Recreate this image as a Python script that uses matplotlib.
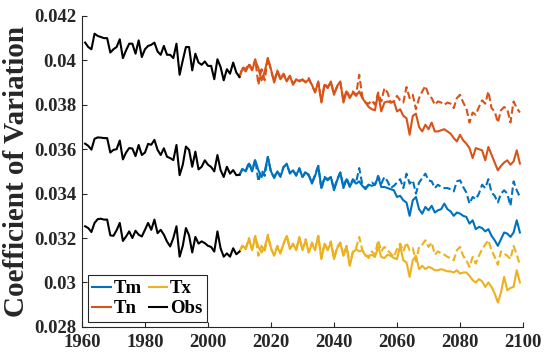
import numpy as np
import matplotlib
matplotlib.use("Agg")
import matplotlib.pyplot as plt
from matplotlib.lines import Line2D

# values are coefficient of variation x 1e4
years_obs = np.arange(1961, 2011)
years_fut = np.arange(2010, 2100)

tn_obs = [408, 406, 405, 412, 411, 410.5, 410, 410, 403.5, 405,
          406, 409.5, 401, 404.5, 407.5, 407.5, 403, 409, 401.5, 405,
          406.5, 407, 408, 404, 402.5, 406.5, 402.5, 402.5, 401, 407.5,
          393.5, 400, 406, 406, 395.5, 403, 399, 398, 399.5, 397.5,
          397.5, 391.5, 400.5, 397, 391, 396, 394, 399, 394.5, 392.5]
tm_obs = [362.5, 361.5, 359.8, 364.7, 365.3, 365.2, 365, 365, 358.5, 359.7,
          360, 363.9, 355.4, 358.5, 360.5, 360.3, 356.9, 361.9, 357.4, 358.5,
          362.4, 362, 364.2, 359.7, 357.4, 360.4, 356.6, 356, 355.1, 361.9,
          348.3, 353, 361.2, 359.7, 352.1, 358.9, 350.9, 352.1, 355, 353,
          352, 350, 357.4, 350.6, 347.5, 352.1, 349, 350.6, 348.3, 348.5]
tx_obs = [325.3, 324.5, 322.7, 326.8, 328.5, 328.7, 328.3, 328.3, 321.2, 321,
          323.5, 326.8, 318.7, 320.7, 323, 320, 323.3, 321.5, 320.7, 323.7,
          326.8, 323.7, 328.3, 322.2, 323.7, 321.5, 318.4, 316.2, 320, 325.3,
          311.6, 316.5, 324.5, 321.2, 313.5, 320.5, 317.5, 318.5, 317.7, 316.5,
          316, 313.9, 323, 315.4, 311.6, 313.1, 311.6, 315.4, 312.7, 313.9]

# projections 2010-2099, solid (a) and dashed (b)
tn_a = [392.5,
        396.5, 395, 398, 395.5, 400, 396.5, 391, 395, 401, 396,
        390, 395, 391.5, 393.5, 390.5, 393, 389, 391.5, 390.5, 391.5,
        390, 391.5, 389, 385.5, 390.5, 381, 389, 387.5, 390.5, 384.5,
        388.5, 390.5, 381, 386, 383, 385.5, 384, 386, 383, 381,
        379, 378, 377.5, 385, 377, 381, 381.5, 381, 381.5, 377,
        378, 375, 374, 366.5, 375, 376, 370, 368, 371, 369,
        372, 368, 368, 368.5, 369, 368, 367, 365, 363.5, 366.5,
        364, 362.5, 360.5, 356, 360.5, 360, 359.5, 355, 361, 357.5,
        354, 350.5, 352.5, 354, 355, 353, 354.5, 359.5, 353.5]
tn_b = [392.5,
        397, 396, 398.5, 396, 400.5, 389, 396, 391, 401, 395.5,
        390.5, 395.5, 392, 394, 391, 393, 389.5, 391, 391, 391,
        390.5, 392, 388.5, 386, 390, 381.5, 389.5, 388, 390, 385,
        388, 390, 382, 386.5, 383.5, 386, 384.5, 393.5, 383.5, 381,
        380.5, 382, 380, 385.5, 381.5, 387.5, 385.5, 381, 381.5, 384,
        382, 381, 388, 383, 384.5, 378, 383, 386, 388.5, 384.5,
        383, 380, 381.5, 381, 380, 381, 380.5, 378.5, 383, 384.5,
        381, 378.5, 372, 376.5, 375.5, 379, 382, 380.5, 386, 378.5,
        377, 372, 377.5, 379, 378, 372, 381.5, 378.5, 376.5]

tm_a = [348.5,
        351, 350, 353.5, 350, 355, 350.5, 347.5, 350, 356.5, 350,
        347, 350, 347.5, 352, 353.5, 349, 350.5, 348.5, 351, 347.5,
        349.5, 348.5, 344.5, 348, 352.5, 342.5, 347, 346, 347.5, 341.5,
        346, 349.5, 342.5, 346.5, 343, 346, 344.5, 345.5, 343.5, 342,
        344, 343.5, 344, 347.5, 343, 343, 342.5, 342, 341.5, 338.5,
        339, 337, 336, 330, 337, 338.5, 333, 331, 334, 332.5,
        334.5, 331.5, 332.5, 333, 335.5, 333, 332, 330, 331.5, 331,
        330, 329.5, 326.5, 328, 324, 325, 324.5, 323, 324, 321,
        319, 316.5, 319.5, 322.5, 322, 320.5, 322.5, 328, 322.5]
tm_b = [348.5,
        351.5, 350.5, 354, 350.5, 355.5, 345.5, 350.5, 348, 356.5, 349.5,
        347.5, 350, 348, 352, 353, 349.5, 350.5, 348, 351.5, 347.5,
        350, 348, 345, 348.5, 352.5, 342, 347.5, 346.5, 347.5, 342,
        346.5, 349.5, 343, 347, 343.5, 346.5, 345, 351.5, 344, 342.5,
        344, 345, 344, 348, 344.5, 347.5, 345.5, 342.5, 343.5, 345,
        346.5, 342.5, 349, 344.5, 346, 340, 345, 347, 349, 346,
        345.5, 342.5, 344, 343, 342.5, 342.5, 342, 341, 345.5, 346,
        343, 340.5, 335.5, 338.5, 337.5, 340, 344, 342.5, 346.5, 340.5,
        339, 336, 340, 341.5, 340, 334.5, 345.5, 341.5, 338.5]

tx_a = [313.9,
        316.5, 315, 319.5, 314.5, 320.5, 316, 313.5, 316, 321, 315.5,
        312, 316, 313, 317.5, 321, 315, 317.5, 314.5, 320.5, 314.5,
        319, 313.5, 317.5, 314.5, 321, 310.5, 317.5, 314.5, 318, 310.5,
        315.5, 317.5, 312, 316, 307.5, 313.5, 315, 314, 314.5, 312,
        312, 312.5, 311.5, 316, 311.5, 311, 312.5, 312, 311, 310.5,
        316.5, 310, 309, 302.5, 310, 312, 306, 307.5, 306, 307,
        306.5, 305.5, 305.5, 306, 305.5, 305, 305, 304.5, 305.5, 304,
        304.5, 304.5, 303, 301, 300, 301.5, 300.5, 298, 300, 298,
        295, 291, 295.5, 302.5, 296.5, 297.5, 298, 305.5, 300]
tx_b = [313.9,
        317, 315.5, 320, 315, 321, 312, 316.5, 314, 321.5, 315,
        312.5, 316.5, 313.5, 317.5, 321, 315.5, 317, 315, 320, 315,
        319.5, 313.5, 318, 315, 321, 311, 317.5, 315, 318.5, 311,
        316, 318, 312.5, 316.5, 308, 314, 315.5, 320.5, 314.5, 312.5,
        311, 314, 312.5, 319, 314, 316, 314.5, 313, 311.5, 315,
        317.5, 314, 318, 314.5, 315.5, 309.5, 316, 317, 319, 316,
        318, 312.5, 314, 313, 312.5, 311.5, 311, 310, 314.5, 316,
        312, 310, 307, 311.5, 308.5, 312, 315, 317, 319, 314.5,
        311.5, 308, 314, 313, 312, 310.5, 316.5, 312.5, 308]

c_tm = "#0072BD"
c_tn = "#D95319"
c_tx = "#EDB120"
c_obs = "black"
axcol = "#262626"

plt.rcParams["font.family"] = ["Liberation Serif", "DejaVu Serif"]
plt.rcParams["font.weight"] = "bold"

fig = plt.figure(figsize=(5.5, 3.62), dpi=100)
ax = fig.add_axes([0.149, 0.097, 0.802, 0.859])

scale = 1e-4
lw = 1.5
dash = (0, (3.5, 1.6))

for vals, col in [(tn_b, c_tn), (tm_b, c_tm), (tx_b, c_tx)]:
    ax.plot(years_fut, np.array(vals) * scale, color=col, lw=lw, linestyle=dash)
for vals, col in [(tn_a, c_tn), (tm_a, c_tm), (tx_a, c_tx)]:
    ax.plot(years_fut, np.array(vals) * scale, color=col, lw=lw)
for vals in [tn_obs, tm_obs, tx_obs]:
    ax.plot(years_obs, np.array(vals) * scale, color=c_obs, lw=lw)

ax.set_xlim(1960, 2100)
ax.set_ylim(0.028, 0.042)
ax.set_xticks(np.arange(1960, 2101, 20))
yt = np.arange(0.028, 0.0421, 0.002)
ax.set_yticks(yt)
ax.set_yticklabels([("%.3f" % v).rstrip("0") for v in yt])

for s in ["top", "right"]:
    ax.spines[s].set_visible(False)
for s in ["left", "bottom"]:
    ax.spines[s].set_color(axcol)
    ax.spines[s].set_linewidth(0.8)
ax.tick_params(direction="in", length=3.5, width=0.8, color=axcol,
               labelcolor=axcol, labelsize=13.5)
ax.tick_params(axis="x", pad=5)
ax.tick_params(axis="y", pad=4)

ax.set_ylabel("Coefficient of Variation", fontsize=21, fontweight="bold",
              color=axcol, labelpad=3)

handles = [Line2D([], [], color=c_tm, lw=lw), Line2D([], [], color=c_tn, lw=lw),
           Line2D([], [], color=c_tx, lw=lw), Line2D([], [], color=c_obs, lw=lw)]
leg = ax.legend(handles, ["Tm", "Tn", "Tx", "Obs"], ncol=2, loc="lower left",
                bbox_to_anchor=(0.013, 0.016), borderaxespad=0, fancybox=False,
                edgecolor=axcol, framealpha=1, fontsize=13.5, handlelength=1.0,
                handletextpad=0.15, columnspacing=0.35, labelspacing=0.15,
                borderpad=0.25)
leg.get_frame().set_linewidth(0.8)

fig.savefig("out.png", dpi=100)
